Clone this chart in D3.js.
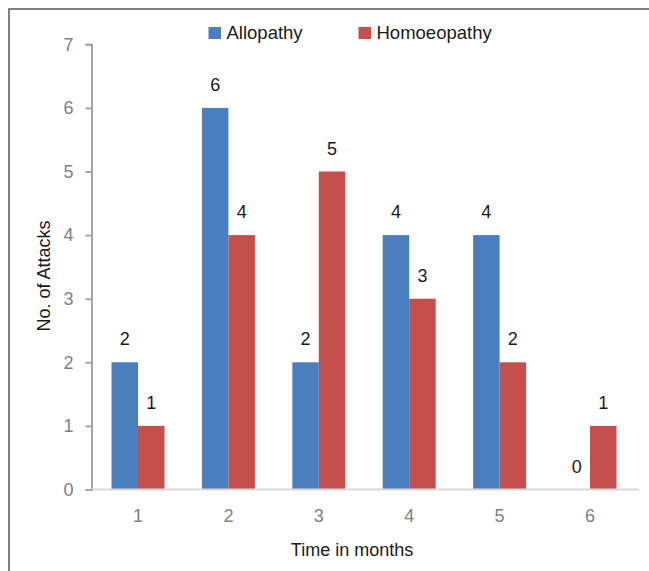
<!DOCTYPE html>
<html>
<head>
<meta charset="utf-8">
<script src="https://cdn.jsdelivr.net/npm/d3@7"></script>
<style>
  html, body { margin: 0; padding: 0; background: #fff; }
  svg { display: block; }
  text { font-family: "Liberation Sans", Arial, sans-serif; }
</style>
</head>
<body>
<svg id="chart" width="649" height="571"></svg>
<script>
const categories = ["1", "2", "3", "4", "5", "6"];
const seriesNames = ["Allopathy", "Homoeopathy"];
const allopathy = [2, 6, 2, 4, 4, 0];
const homoeopathy = [1, 4, 5, 3, 2, 1];
const yTicks = [0, 1, 2, 3, 4, 5, 6, 7];
const colors = ["#4A7EBF", "#C44F4D"];

const svg = d3.select("#chart");

// outer frame (top and left edges)
svg.append("path")
  .attr("d", "M9,571 L9,9 L649,9")
  .attr("fill", "none").attr("stroke", "#555").attr("stroke-width", 1.5);

const x0 = d3.scaleBand().domain(categories).range([92.8, 635.2])
  .paddingInner(0.414).paddingOuter(0.207);
const x1 = d3.scaleBand().domain(seriesNames).range([0, x0.bandwidth()]);
const y = d3.scaleLinear().domain([0, 7]).range([489.5, 44.3]);

const series = [allopathy, homoeopathy];
const data = categories.map((c, i) => ({
  cat: c,
  vals: seriesNames.map((s, j) => ({ s, j, v: series[j][i] }))
}));

// y axis
const yAxis = d3.axisLeft(y).tickValues(yTicks).tickFormat(d3.format("d"))
  .tickSize(6).tickPadding(12).tickSizeOuter(6);
const gy = svg.append("g").attr("transform", "translate(91.5,0)").call(yAxis);
gy.select(".domain").attr("stroke", "#A6A6A6").attr("stroke-width", 2);
gy.selectAll(".tick line").attr("stroke", "#A6A6A6").attr("stroke-width", 2);
gy.selectAll(".tick text").attr("fill", "#808080").style("font-size", "18px")
  .style("font-family", "Liberation Sans, Arial, sans-serif");

// bars
const groups = svg.append("g").selectAll("g").data(data).join("g")
  .attr("transform", d => `translate(${x0(d.cat)},0)`);
groups.selectAll("rect").data(d => d.vals).join("rect")
  .attr("x", d => x1(d.s))
  .attr("width", x1.bandwidth())
  .attr("y", d => y(d.v))
  .attr("height", d => y(0) - y(d.v))
  .attr("fill", d => colors[d.j]);
groups.selectAll("text").data(d => d.vals).join("text")
  .attr("x", d => x1(d.s) + x1.bandwidth() / 2)
  .attr("y", d => y(d.v) - 17)
  .attr("text-anchor", "middle")
  .attr("fill", "#1a1a1a")
  .style("font-size", "18px")
  .text(d => d.v);

// x axis
const xAxis = d3.axisBottom(x0).tickSize(0).tickPadding(20);
const gx = svg.append("g").attr("transform", `translate(0,${y(0)})`).call(xAxis);
gx.select(".domain").remove();
gx.selectAll(".tick text").attr("fill", "#808080").style("font-size", "18px")
  .style("font-family", "Liberation Sans, Arial, sans-serif");
svg.append("line")
  .attr("x1", 92).attr("x2", 639).attr("y1", y(0)).attr("y2", y(0))
  .attr("stroke", "#D9D9D9").attr("stroke-width", 2);

// axis titles
svg.append("text").attr("x", 352).attr("y", 556).attr("text-anchor", "middle")
  .attr("fill", "#1a1a1a").style("font-size", "18px").text("Time in months");
svg.append("text").attr("transform", "translate(50,276) rotate(-90)")
  .attr("text-anchor", "middle").attr("fill", "#1a1a1a").style("font-size", "18px")
  .text("No. of Attacks");

// legend
const legendX = [208.5, 358.5];
const legend = svg.append("g").selectAll("g").data(seriesNames).join("g")
  .attr("transform", (d, i) => `translate(${legendX[i]},27)`);
legend.append("rect").attr("width", 12.5).attr("height", 12).attr("fill", (d, i) => colors[i]);
legend.append("text").attr("x", 18).attr("y", 12.3)
  .attr("fill", "#1a1a1a").style("font-size", "18.5px").text(d => d);
</script>
</body>
</html>
